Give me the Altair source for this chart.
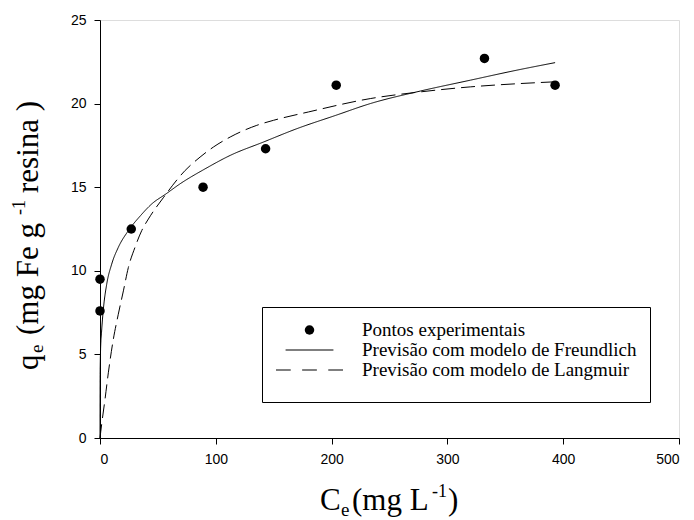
import altair as alt
import pandas as pd

# Experimental points
pts_c = [0, 0, 27, 89, 143, 204, 332, 393]
pts_q = [7.6, 9.5, 12.5, 15.0, 17.3, 21.1, 22.7, 21.1]

# Freundlich model curve
fr_c = [0, 0.1, 0.5, 1.4, 2.9, 5.8, 10.1, 15.8, 24.5, 35, 44.7, 57, 69.1, 90.8, 112.4, 141.1, 170, 203.7, 233.4, 276.6, 319.8, 360, 393]
fr_q = [0, 3.8, 5.3, 6.4, 7.7, 9.2, 10.4, 11.4, 12.4, 13.3, 14.0, 14.6, 15.2, 16.1, 16.9, 17.7, 18.5, 19.3, 20.0, 20.75, 21.4, 22.0, 22.45]

# Langmuir model curve
la_c = [0, 1.4, 4.3, 7.2, 11.5, 15.8, 20.2, 24.5, 30.2, 36, 41.8, 55, 73.5, 86.4, 97.9, 112.4, 135.4, 149.8, 180, 233.4, 276.6, 319.8, 363, 392]
la_q = [0, 0.8, 2.3, 3.9, 5.9, 7.4, 8.8, 10.2, 11.4, 12.4, 13.1, 14.4, 16.0, 16.8, 17.4, 18.0, 18.7, 19.0, 19.5, 20.3, 20.7, 21.0, 21.2, 21.3]

series = ["Pontos experimentais",
          "Previsão com modelo de Freundlich",
          "Previsão com modelo de Langmuir"]

x_ticks = [0, 100, 200, 300, 400, 500]
y_ticks = [0, 5, 10, 15, 20, 25]

SERIF = "Liberation Serif, Times New Roman, DejaVu Serif, serif"

pts_df = pd.DataFrame({"C": pts_c, "q": pts_q, "series": series[0]})
curve_df = pd.concat([
    pd.DataFrame({"C": fr_c, "q": fr_q, "series": series[1], "ord": range(len(fr_c))}),
    pd.DataFrame({"C": la_c, "q": la_q, "series": series[2], "ord": range(len(la_c))}),
])

xscale = alt.Scale(domain=[0, 500], nice=False, zero=False)
yscale = alt.Scale(domain=[0, 25], nice=False, zero=False)

common_axis = dict(grid=False, title="",
                   labelFont="Liberation Sans", labelFontSize=14, labelColor="black",
                   labelPadding=8, tickSize=6, tickColor="black", domainColor="black")
xaxis = alt.Axis(values=x_ticks, **common_axis)
yaxis = alt.Axis(values=y_ticks, **common_axis)

legend = alt.Legend(title=" ", titleOrient="bottom", titleFontSize=9, titlePadding=0,
                    orient="none", legendX=162, legendY=287,
                    strokeColor="black", fillColor="white", padding=13,
                    labelFont=SERIF, labelFontSize=19, labelColor="black",
                    labelOffset=18, labelLimit=0, clipHeight=20, rowPadding=0,
                    symbolFillColor="black", cornerRadius=0)

# legend symbols: filled circle, thin solid bar, three dashes (unit box [-1,1])
solid_sym = "M-1,-0.016H1V0.016H-1Z"
dash_sym = ("M-1,-0.016H-0.56V0.016H-1Z "
            "M-0.22,-0.016H0.22V0.016H-0.22Z "
            "M0.56,-0.016H1V0.016H0.56Z")

shape = alt.Shape("series:N",
                  scale=alt.Scale(domain=series, range=["circle", solid_sym, dash_sym]),
                  legend=legend)
size = alt.Size("series:N",
                scale=alt.Scale(domain=series, range=[90, 4489, 4489]),
                legend=legend)

lines = alt.Chart(curve_df).mark_line(color="black", strokeWidth=1, interpolate="monotone").encode(
    x=alt.X("C:Q", scale=xscale, axis=xaxis),
    y=alt.Y("q:Q", scale=yscale, axis=yaxis),
    strokeDash=alt.StrokeDash("series:N",
                              scale=alt.Scale(domain=series[1:], range=[[1, 0], [14, 6]]),
                              legend=None),
    detail="series:N",
    order="ord:Q",
)

points = alt.Chart(pts_df).mark_point(filled=True, fill="black", opacity=1).encode(
    x=alt.X("C:Q", scale=xscale),
    y=alt.Y("q:Q", scale=yscale),
    shape=shape,
    size=size,
)

# Axis titles with sub/superscripts, composed from text pieces
one = pd.DataFrame({"a": [0]})
def piece(text, x, y, fs, angle=0):
    kw = dict(text=text, fontSize=fs, font=SERIF, color="black",
              align="left", baseline="alphabetic")
    if angle:
        kw["angle"] = angle
    return alt.Chart(one).mark_text(**kw).encode(x=alt.value(x), y=alt.value(y))

title_layers = [
    # x title: C_e (mg L^-1)
    piece("C", 220, 490, 31),
    piece("e", 241, 496, 19),
    piece("(mg L", 252, 490, 31),
    piece("-1", 332, 477, 18),
    piece(")", 348, 490, 31),
    # y title: q_e (mg Fe g^-1 resina )
    piece("q", -62, 350, 31, 270),
    piece("e", -57, 333, 19, 270),
    piece("(mg Fe g", -62, 315, 31, 270),
    piece("-1", -75, 195, 18, 270),
    piece("resina )", -62, 173, 31, 270),
]

chart = alt.layer(lines, points, *title_layers).properties(
    width=579, height=418,
    autosize=alt.AutoSizeParams(type="none"),
    padding={"left": 100, "top": 20, "right": 15, "bottom": 82},
).configure_view(stroke="black", strokeWidth=1).configure(background="white")

chart.save("out.html", embed_options={"renderer": "svg", "actions": False})
